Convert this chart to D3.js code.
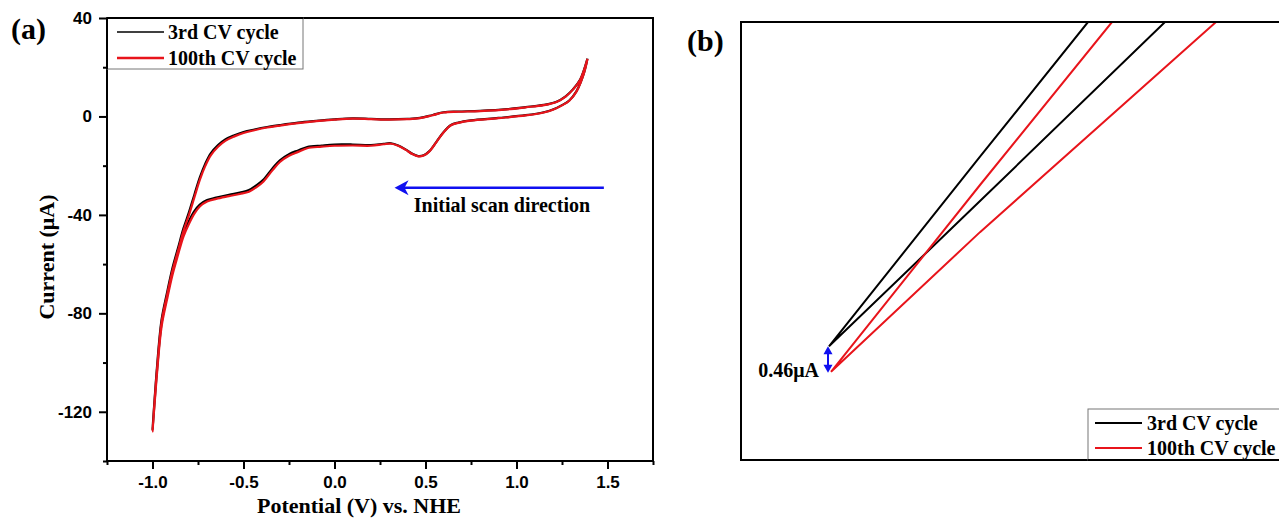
<!DOCTYPE html>
<html>
<head>
<meta charset="utf-8">
<script src="https://cdn.jsdelivr.net/npm/d3@7"></script>
<style>
  html, body { margin: 0; padding: 0; background: #ffffff; }
  svg { display: block; }
</style>
</head>
<body>
<svg id="chart" width="1279" height="520"></svg>
<script>
// ---------- Cyclic voltammogram: potential (V vs. NHE) around the loop ----------
// Starts at the positive vertex, sweeps cathodically to -1.0 V, then back.
const cvPotential = [
  1.39, 1.37, 1.33, 1.29, 1.25, 1.20, 1.15, 1.05, 0.90, 0.75,
  0.68, 0.64, 0.60, 0.56, 0.52, 0.49, 0.46, 0.43, 0.39, 0.35,
  0.31, 0.27, 0.20, 0.10, 0.00, -0.07, -0.15, -0.20, -0.25, -0.30,
  -0.34, -0.39, -0.43, -0.47, -0.52, -0.58, -0.65, -0.70, -0.74, -0.77,
  -0.80, -0.83, -0.86, -0.89, -0.92, -0.95, -0.975, -1.00,
  -0.975, -0.95, -0.92, -0.89, -0.86, -0.83, -0.80, -0.77, -0.74, -0.71,
  -0.68, -0.64, -0.60, -0.55, -0.50, -0.44, -0.37, -0.30, -0.20, -0.10,
  0.00, 0.10, 0.20, 0.30, 0.40, 0.47, 0.54, 0.60, 0.68, 0.80,
  0.95, 1.05, 1.15, 1.22, 1.27, 1.31, 1.35, 1.39
];

// Current (µA), 3rd CV cycle
const cycle3Current = [
  23.5, 17.5, 10.3, 6.5, 4.6, 2.8, 1.7, 0.5, -0.6, -1.6,
  -2.5, -3.5, -6.3, -10.3, -14.2, -15.8, -16.1, -15.3, -13.4, -11.8,
  -10.9, -11.1, -11.6, -11.4, -11.4, -11.8, -12.4, -13.8, -15.3, -17.8,
  -21.0, -25.6, -28.0, -29.9, -30.9, -31.8, -33.0, -34.0, -35.8, -38.5,
  -42.5, -47.5, -55.0, -63.0, -73.0, -84.0, -103.0, -127.5,
  -101.5, -82.5, -71.5, -61.5, -53.5, -45.5, -39.0, -31.8, -24.8, -19.2,
  -15.0, -11.6, -9.3, -7.6, -6.3, -5.3, -4.3, -3.5, -2.5, -1.8,
  -1.2, -0.8, -1.0, -1.2, -1.0, -0.6, 0.6, 1.7, 2.0, 2.3,
  3.0, 3.8, 4.7, 6.0, 8.2, 11.0, 15.0, 23.5
];

// Current (µA), 100th CV cycle
const cycle100Current = [
  23.4, 17.4, 10.2, 6.4, 4.5, 2.7, 1.6, 0.4, -0.7, -1.7,
  -2.6, -3.6, -6.4, -10.4, -14.3, -15.9, -16.2, -15.4, -13.5, -11.9,
  -11.1, -11.3, -11.9, -11.8, -11.9, -12.3, -12.9, -14.4, -16.0, -18.5,
  -21.8, -26.4, -28.8, -30.6, -31.5, -32.4, -33.5, -34.6, -36.6, -39.5,
  -43.7, -48.8, -56.3, -64.3, -74.3, -85.3, -104.2, -127.96,
  -102.6, -83.6, -72.6, -62.6, -54.6, -46.6, -40.1, -32.9, -25.8, -20.1,
  -15.8, -12.3, -9.9, -8.1, -6.7, -5.6, -4.5, -3.7, -2.7, -1.9,
  -1.3, -0.9, -1.1, -1.3, -1.1, -0.7, 0.5, 1.6, 1.9, 2.2,
  2.9, 3.7, 4.6, 5.9, 8.1, 10.9, 14.9, 23.4
];

// Axis ticks for panel (a)
const xMajorTicks = [-1.0, -0.5, 0.0, 0.5, 1.0, 1.5];
const xMinorTicks = [-1.25, -0.75, -0.25, 0.25, 0.75, 1.25, 1.75];
const yMajorTicks = [-120, -80, -40, 0, 40];
const yMinorTicks = [-140, -100, -60, -20, 20];

// Initial scan direction arrow (V, µA)
const scanArrowStart = [1.48, -29];
const scanArrowEnd = [0.33, -29];
const scanLabelAt = [0.92, -38.8];

// ---------- Panel (b): close-up of the negative vertex ----------
const zoomPotential3 = [-0.993525, -0.996225, -1.0000, -0.996225, -0.991600];
const zoomCurrent3   = [-121.65, -124.08, -127.50, -124.88, -121.65];
const zoomPotential100 = [-0.992925, -0.996225, -0.99995, -0.996225, -0.990325];
const zoomCurrent100   = [-121.65, -124.59, -127.96, -125.44, -121.65];
const vertexGapLabel = "0.46μA";

const seriesNames = ["3rd CV cycle", "100th CV cycle"];
const seriesColors = ["#000000", "#e8141b"];

// ---------- drawing ----------
const svg = d3.select("#chart");
const serif = '"Liberation Serif","Times New Roman",Times,serif';
const sans = '"Liberation Sans",Arial,Helvetica,sans-serif';
const blue = "#1010f0";

// ===== Panel (a) =====
const xA = d3.scaleLinear().domain([-1.25, 1.75]).range([107, 653]);
const yA = d3.scaleLinear().domain([-140, 40]).range([461, 18]);
const gA = svg.append("g");

function styleAxis(sel, withText) {
  sel.select(".domain").remove();
  sel.selectAll(".tick line").attr("stroke", "#000").attr("stroke-width", 2);
  if (withText) {
    sel.selectAll(".tick text")
      .attr("fill", "#000")
      .style("font-family", sans)
      .style("font-weight", "bold")
      .style("font-size", "17px");
  } else {
    sel.selectAll(".tick text").remove();
  }
}

gA.append("g").attr("transform", `translate(0,${yA(-140)})`)
  .call(d3.axisBottom(xA).tickValues(xMajorTicks).tickSize(8).tickPadding(7)
        .tickFormat(d => d.toFixed(1)))
  .call(s => styleAxis(s, true));
gA.append("g").attr("transform", `translate(0,${yA(-140)})`)
  .call(d3.axisBottom(xA).tickValues(xMinorTicks).tickSize(4))
  .call(s => styleAxis(s, false));
gA.append("g").attr("transform", `translate(${xA(-1.25)},0)`)
  .call(d3.axisLeft(yA).tickValues(yMajorTicks).tickSize(8).tickPadding(7)
        .tickFormat(d => String(d)))
  .call(s => styleAxis(s, true));
gA.append("g").attr("transform", `translate(${xA(-1.25)},0)`)
  .call(d3.axisLeft(yA).tickValues(yMinorTicks).tickSize(4))
  .call(s => styleAxis(s, false));

// CV curves
const lineA = d3.line()
  .x(d => xA(d[0])).y(d => yA(d[1]))
  .curve(d3.curveCatmullRom.alpha(0.5));
[cycle3Current, cycle100Current].forEach((cur, i) => {
  gA.append("path")
    .datum(cvPotential.map((v, k) => [v, cur[k]]))
    .attr("d", lineA)
    .attr("fill", "none")
    .attr("stroke", seriesColors[i])
    .attr("stroke-width", 2.2)
    .attr("stroke-linejoin", "round");
});

// frame
gA.append("rect")
  .attr("x", xA(-1.25)).attr("y", yA(40))
  .attr("width", xA(1.75) - xA(-1.25)).attr("height", yA(-140) - yA(40))
  .attr("fill", "none").attr("stroke", "#000").attr("stroke-width", 2);

// legend
const legA = gA.append("g");
legA.append("rect").attr("x", 107).attr("y", 18).attr("width", 196).attr("height", 51)
  .attr("fill", "#fff").attr("stroke", "#777").attr("stroke-width", 1);
legA.append("line").attr("x1", 107).attr("x2", 303).attr("y1", 18).attr("y2", 18)
  .attr("stroke", "#000").attr("stroke-width", 2);
legA.append("line").attr("x1", 107).attr("x2", 107).attr("y1", 18).attr("y2", 69)
  .attr("stroke", "#000").attr("stroke-width", 2);
seriesNames.forEach((name, i) => {
  const y = 32 + i * 26;
  legA.append("line").attr("x1", 117).attr("x2", 164).attr("y1", y).attr("y2", y)
    .attr("stroke", seriesColors[i]).attr("stroke-width", i === 0 ? 1.6 : 2.4);
  legA.append("text").attr("x", 168).attr("y", y + 7).text(name)
    .style("font-family", serif).style("font-weight", "bold").style("font-size", "20px");
});

// scan direction arrow
{
  const x0 = xA(scanArrowStart[0]), x1 = xA(scanArrowEnd[0]), y = yA(scanArrowStart[1]);
  gA.append("line").attr("x1", x0).attr("x2", x1 + 9).attr("y1", y).attr("y2", y)
    .attr("stroke", blue).attr("stroke-width", 2.5);
  gA.append("path")
    .attr("d", `M${x1},${y} L${x1 + 14},${y - 7.5} L${x1 + 10},${y} L${x1 + 14},${y + 7.5} Z`)
    .attr("fill", blue);
  gA.append("text").attr("x", xA(scanLabelAt[0])).attr("y", yA(scanLabelAt[1]))
    .attr("text-anchor", "middle").text("Initial scan direction")
    .style("font-family", serif).style("font-weight", "bold").style("font-size", "20px");
}

// axis titles and panel label
gA.append("text").attr("x", 359).attr("y", 513).attr("text-anchor", "middle")
  .text("Potential (V) vs. NHE")
  .style("font-family", serif).style("font-weight", "bold").style("font-size", "22px");
gA.append("text").attr("transform", "translate(54,257) rotate(-90)")
  .attr("text-anchor", "middle").text("Current (μA)")
  .style("font-family", serif).style("font-weight", "bold").style("font-size", "22px");
gA.append("text").attr("x", 11).attr("y", 39).text("(a)")
  .style("font-family", serif).style("font-weight", "bold").style("font-size", "30px");

// ===== Panel (b) =====
const xB = d3.scaleLinear().domain([-1.0022, -0.9887]).range([741, 1281]);
const yB = d3.scaleLinear().domain([-129.55, -121.65]).range([460, 22]);
const gB = svg.append("g");

svg.append("defs").append("clipPath").attr("id", "clipB")
  .append("rect").attr("x", 741).attr("y", 22).attr("width", 540).attr("height", 438);

const lineB = d3.line().x(d => xB(d[0])).y(d => yB(d[1]));
const plotB = gB.append("g").attr("clip-path", "url(#clipB)");
[[zoomPotential3, zoomCurrent3], [zoomPotential100, zoomCurrent100]].forEach(([px, cy], i) => {
  plotB.append("path")
    .datum(px.map((v, k) => [v, cy[k]]))
    .attr("d", lineB)
    .attr("fill", "none")
    .attr("stroke", seriesColors[i])
    .attr("stroke-width", 2)
    .attr("stroke-linejoin", "miter");
});

gB.append("rect").attr("x", 741).attr("y", 22).attr("width", 540).attr("height", 438)
  .attr("fill", "none").attr("stroke", "#000").attr("stroke-width", 2);

// vertex gap marker
{
  const x = xB(-1.0) - 1, yTop = yB(zoomCurrent3[2]), yBot = yB(zoomCurrent100[2]) + 1;
  gB.append("line").attr("x1", x).attr("x2", x).attr("y1", yTop + 5).attr("y2", yBot - 5)
    .attr("stroke", blue).attr("stroke-width", 2);
  gB.append("path").attr("d", `M${x},${yTop} L${x - 4.5},${yTop + 8} L${x + 4.5},${yTop + 8} Z`)
    .attr("fill", blue);
  gB.append("path").attr("d", `M${x},${yBot} L${x - 4.5},${yBot - 8} L${x + 4.5},${yBot - 8} Z`)
    .attr("fill", blue);
  gB.append("text").attr("x", x - 9).attr("y", yBot + 4)
    .attr("text-anchor", "end").text(vertexGapLabel)
    .style("font-family", serif).style("font-weight", "bold").style("font-size", "20px");
}

// legend (b)
const legB = gB.append("g");
legB.append("rect").attr("x", 1088).attr("y", 409).attr("width", 200).attr("height", 51)
  .attr("fill", "#fff").attr("stroke", "#777").attr("stroke-width", 1);
legB.append("line").attr("x1", 1088).attr("x2", 1281).attr("y1", 460).attr("y2", 460)
  .attr("stroke", "#000").attr("stroke-width", 2);
seriesNames.forEach((name, i) => {
  const y = 423 + i * 25;
  legB.append("line").attr("x1", 1095).attr("x2", 1142).attr("y1", y).attr("y2", y)
    .attr("stroke", seriesColors[i]).attr("stroke-width", 2);
  legB.append("text").attr("x", 1147).attr("y", y + 7).text(name)
    .style("font-family", serif).style("font-weight", "bold").style("font-size", "20px");
});

gB.append("text").attr("x", 687).attr("y", 51).text("(b)")
  .style("font-family", serif).style("font-weight", "bold").style("font-size", "30px");
</script>
</body>
</html>
